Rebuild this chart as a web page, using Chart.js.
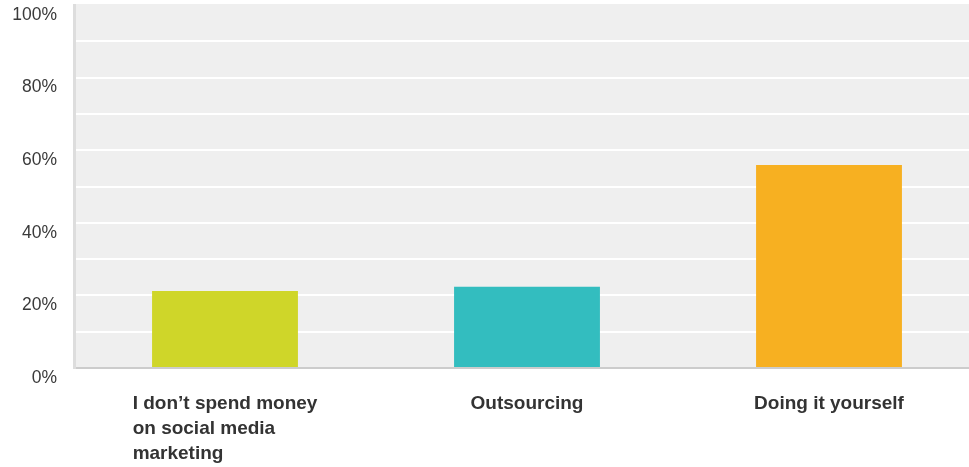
<!DOCTYPE html>
<html>
<head>
<meta charset="utf-8">
<title>Social media marketing spend</title>
<script src="https://cdn.jsdelivr.net/npm/chart.js@4.4.1/dist/chart.umd.min.js"></script>
<style>
  html, body { margin: 0; padding: 0; background: #fff; overflow: hidden; }
  #wrap { width: 969px; height: 467px; overflow: hidden; }
  canvas { display: block; }
</style>
</head>
<body>
<div id="wrap">
  <canvas id="spendChart" width="985" height="467"></canvas>
</div>
<script>
// Answers, one label line per array entry
const categories = [
  ['I don\u2019t spend money', 'on social media', 'marketing'],
  ['Outsourcing'],
  ['Doing it yourself']
];
const shares = [21.2, 22.4, 55.9];
const barColors = ['#cfd629', '#33bdbf', '#f7b021'];
const yTicks = [0, 20, 40, 60, 80, 100];

// Grey plot background
const plotBackground = {
  id: 'plotBackground',
  beforeDraw(chart) {
    const { ctx, chartArea } = chart;
    ctx.save();
    ctx.fillStyle = '#efefef';
    ctx.fillRect(chartArea.left, chartArea.top - 1, chartArea.right - chartArea.left, chartArea.bottom - chartArea.top + 1);
    ctx.restore();
  }
};

// Category labels: left-aligned block, centred under each bar
const categoryLabels = {
  id: 'categoryLabels',
  afterDraw(chart) {
    const { ctx, scales } = chart;
    ctx.save();
    ctx.font = 'bold 19px "Liberation Sans", Arial, sans-serif';
    ctx.fillStyle = '#333333';
    ctx.textAlign = 'left';
    ctx.textBaseline = 'alphabetic';
    chart.data.labels.forEach((lines, i) => {
      const cx = scales.x.getPixelForValue(i);
      const w = Math.max(...lines.map((l) => ctx.measureText(l).width));
      lines.forEach((line, j) => {
        ctx.fillText(line, cx - w / 2, chart.chartArea.bottom + 41 + j * 25);
      });
    });
    ctx.restore();
  }
};

const ctx = document.getElementById('spendChart').getContext('2d');
new Chart(ctx, {
  type: 'bar',
  data: {
    labels: categories,
    datasets: [{
      data: shares,
      backgroundColor: barColors,
      borderWidth: 0,
      barPercentage: 0.483,
      categoryPercentage: 1
    }]
  },
  options: {
    responsive: false,
    animation: false,
    layout: { padding: { top: 5, right: 5, bottom: 99, left: 0 } },
    plugins: {
      legend: { display: false },
      tooltip: { enabled: false }
    },
    scales: {
      x: {
        grid: { display: false },
        ticks: { display: false },
        border: { color: '#cccccc', width: 2 },
        afterFit(scale) {
          scale.height = 0;
          scale.paddingLeft = 0;
          scale.paddingRight = 0;
        }
      },
      y: {
        min: 0,
        max: 100,
        afterBuildTicks(scale) {
          scale.ticks = [];
          for (let v = 0; v <= 100; v += 10) scale.ticks.push({ value: v });
        },
        ticks: {
          callback: (v) => (yTicks.includes(v) ? v + '%' : ''),
          font: { family: '"Liberation Sans", Arial, sans-serif', size: 17.5 },
          color: '#3a3a3a',
          padding: 17,
          labelOffset: 10
        },
        grid: {
          drawTicks: false,
          lineWidth: 2,
          color: (c) => (c.tick && (c.tick.value === 0 || c.tick.value === 100) ? 'rgba(0,0,0,0)' : '#ffffff')
        },
        border: { color: '#dddddd', width: 3 },
        afterFit(scale) {
          scale.width = 74;
          scale.paddingTop = 0;
          scale.paddingBottom = 0;
        }
      }
    }
  },
  plugins: [plotBackground, categoryLabels]
});
</script>
</body>
</html>
